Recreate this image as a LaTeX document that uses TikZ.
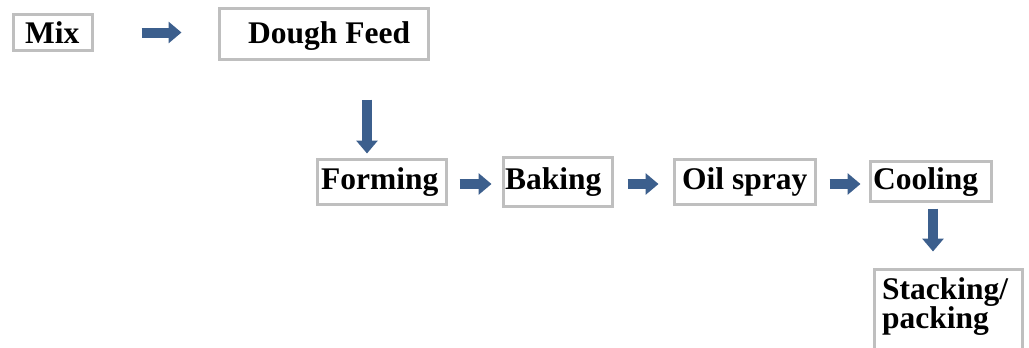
\documentclass[tikz,border=0pt]{standalone}
\usepackage{fontspec}
\setmainfont{Liberation Serif}
\usetikzlibrary{arrows.meta}
\definecolor{boxgray}{HTML}{BFBFBF}
\definecolor{flowblue}{HTML}{3C5F8D}
\begin{document}
\begin{tikzpicture}[x=1pt,y=-1pt,
  stepbox/.style={draw=boxgray,line width=3pt,fill=white,inner sep=0pt},
  label/.style={anchor=base west,inner sep=0pt,font=\fontsize{31.5}{36}\selectfont\bfseries},
  flow/.style={draw=flowblue,line width=10pt,-{Triangle[width=21pt,length=13pt]}}]
  \clip (0,0) rectangle (1029,348);
  \fill[white] (0,0) rectangle (1029,348);

  % process boxes
  \node[stepbox,minimum width=79pt,minimum height=36pt]  (mix)   at (53,32.5) {};
  \node[stepbox,minimum width=209pt,minimum height=51pt] (dough) at (324,34) {};
  \node[stepbox,minimum width=129pt,minimum height=45pt] (form)  at (382,182) {};
  \node[stepbox,minimum width=109pt,minimum height=49pt] (bake)  at (558,182) {};
  \node[stepbox,minimum width=141pt,minimum height=45pt] (oil)   at (745,182) {};
  \node[stepbox,minimum width=121pt,minimum height=40pt] (cool)  at (931,181.5) {};
  \node[stepbox,minimum width=148pt,minimum height=110pt] (stack) at (948.5,324.5) {};

  % box labels
  \node[label] (tmix)   at (25,43)   {Mix};
  \node[label] (tdough) at (248,43)  {Dough Feed};
  \node[label] (tform)  at (321,189) {Forming};
  \node[label] (tbake)  at (505,189) {Baking};
  \node[label] (toil)   at (682,189) {Oil spray};
  \node[label] (tcool)  at (873,189) {Cooling};
  \node[label] (tstack) at (882,299) {Stacking/};
  \node[label] (tpack)  at (882,328) {packing};

  % flow arrows
  \draw[flow,shorten <=47.5pt,shorten >=36.5pt] (mix.east) -- (mix.east -| dough.west);
  \coordinate (formin) at ([xshift=-15pt]form.north);
  \draw[flow,shorten <=38.5pt,shorten >=4.5pt] (formin |- dough.south) -- (formin);
  \draw[flow,shorten <=11.5pt,shorten >=10.5pt] ([yshift=-2pt]form.east) -- ([yshift=-2pt]bake.west);
  \draw[flow,shorten <=13.5pt,shorten >=14.5pt] ([yshift=-2pt]bake.east) -- ([yshift=-2pt]oil.west);
  \draw[flow,shorten <=12.5pt,shorten >=8.5pt] ([yshift=-2pt]oil.east) -- ([yshift=-2.5pt]cool.west);
  \coordinate (stackin) at (933,0);
  \draw[flow,shorten <=5.5pt,shorten >=16.5pt] (stackin |- cool.south) -- (stackin |- stack.north);
\end{tikzpicture}
\end{document}
